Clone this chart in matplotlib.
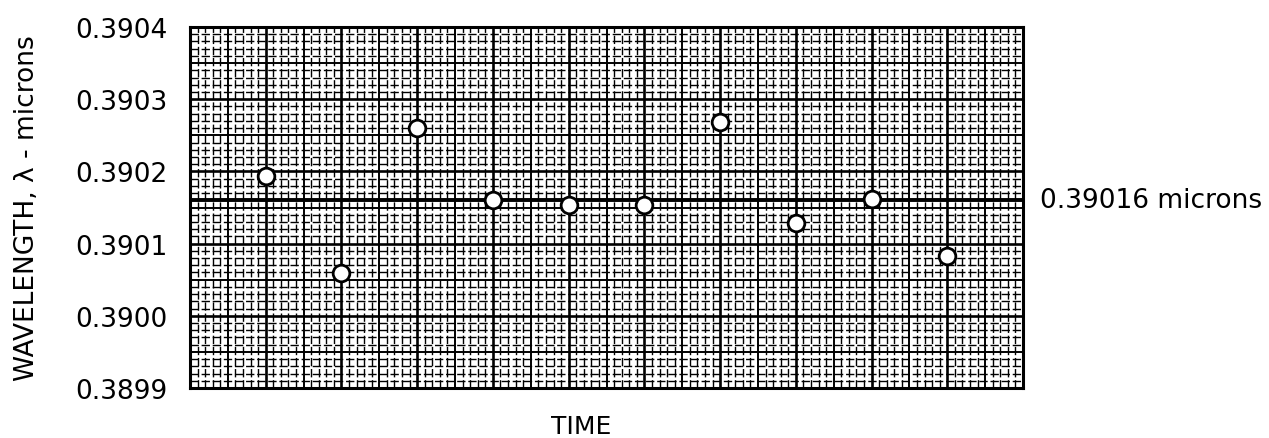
import numpy as np
import matplotlib
matplotlib.use("Agg")
import matplotlib.pyplot as plt

# readings (time index vs wavelength in microns)
time_idx = [1, 2, 3, 4, 5, 6, 7, 8, 9, 10]
wavelength = [0.390193, 0.390059, 0.390260, 0.390160, 0.390153,
              0.390153, 0.390269, 0.390129, 0.390162, 0.390083]
mean_wl = 0.39016
yticks = [0.3899, 0.3900, 0.3901, 0.3902, 0.3903, 0.3904]
ytick_labels = ["0.3899", "0.3900", "0.3901", "0.3902", "0.3903", "0.3904"]

fig = plt.figure(figsize=(12.69, 4.39), dpi=100)
ax = fig.add_axes([0.1497, 0.1139, 0.6565, 0.8223])

ax.set_xlim(0, 11)
ax.set_ylim(0.3899, 0.3904)

# graph-paper grid
for x in np.arange(0, 11.001, 0.1):
    k = int(round(x * 10))
    if k % 10 == 0:
        ax.axvline(x, color="black", lw=1.9, zorder=1)
    elif k % 5 == 0:
        ax.axvline(x, color="black", lw=1.4, zorder=1)
    else:
        ax.axvline(x, color="black", lw=1.0, ls=(0, (6, 2)), zorder=1)
for y in np.arange(0, 50.001, 1):
    k = int(round(y))
    yy = 0.3899 + k * 0.00001
    if k % 10 == 0:
        ax.axhline(yy, color="black", lw=1.9, zorder=1)
    elif k % 5 == 0:
        ax.axhline(yy, color="black", lw=1.4, zorder=1)
    else:
        ax.axhline(yy, color="black", lw=1.0, ls=(0, (6, 2)), zorder=1)

ax.axhline(mean_wl, color="black", lw=2.8, zorder=2)
ax.plot(time_idx, wavelength, "o", ms=12, mfc="white", mec="black", mew=2.0, zorder=3)

ax.set_xticks([])
ax.set_yticks(yticks)
ax.set_yticklabels(ytick_labels, fontsize=19)
ax.tick_params(axis="y", length=0, pad=16)
for s in ax.spines.values():
    s.set_linewidth(2.2)

ax.set_ylabel("WAVELENGTH, λ - microns", fontsize=19)
ax.yaxis.set_label_coords(-0.18, 0.5)
fig.text(581 / 1269, 1 - 427 / 439, "TIME", fontsize=18, ha="center", va="center")
ax.text(1.02, mean_wl, "0.39016 microns", transform=ax.get_yaxis_transform(),
        fontsize=19, ha="left", va="center")

fig.savefig("out.png", dpi=100)
